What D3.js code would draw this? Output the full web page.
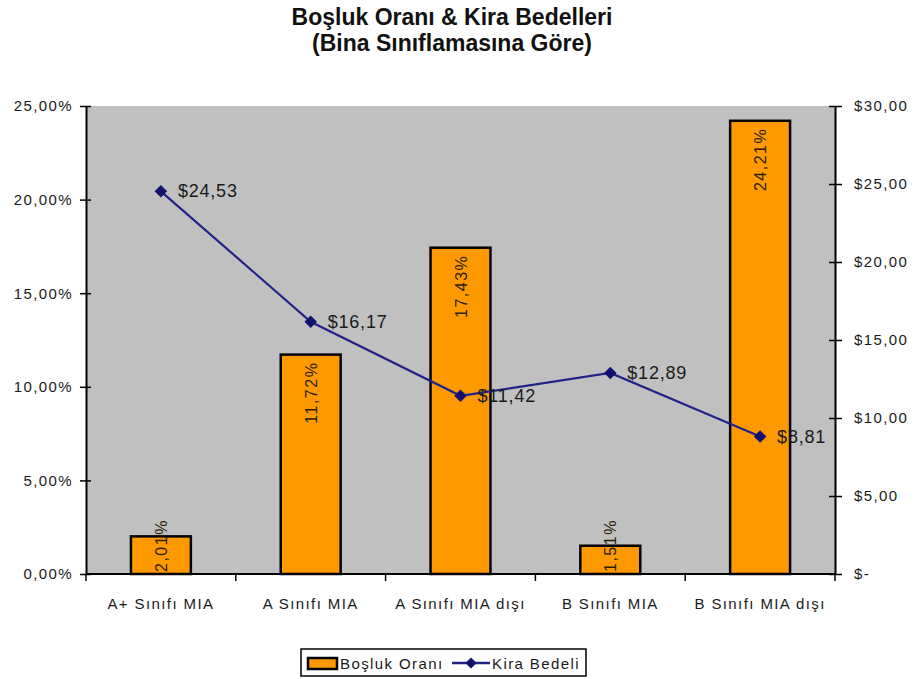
<!DOCTYPE html>
<html>
<head>
<meta charset="utf-8">
<script src="https://cdn.jsdelivr.net/npm/d3@7"></script>
<style>
  html, body { margin: 0; padding: 0; background: #ffffff; }
  svg { display: block; font-family: "Liberation Sans", Arial, sans-serif; }
</style>
</head>
<body>
<svg id="chart" width="916" height="679"></svg>
<script>
// Building classes and their figures
const categories = ["A+ Sınıfı MIA", "A Sınıfı MIA", "A Sınıfı MIA dışı", "B Sınıfı MIA", "B Sınıfı MIA dışı"];
const vacancyRate = [2.01, 11.72, 17.43, 1.51, 24.21];   // Boşluk Oranı (%)
const rentValue = [24.53, 16.17, 11.42, 12.89, 8.81];    // Kira Bedeli ($)
const leftTicks = [0, 5, 10, 15, 20, 25];
const rightTicks = [0, 5, 10, 15, 20, 25, 30];
const titleLines = ["Boşluk Oranı & Kira Bedelleri", "(Bina Sınıflamasına Göre)"];
const seriesNames = ["Boşluk Oranı", "Kira Bedeli"];

const trLocale = d3.formatLocale({ decimal: ",", thousands: ".", grouping: [3], currency: ["$", ""] });
const fmt2 = trLocale.format(".2f");
const pctLabel = v => fmt2(v) + "%";
const usdLabel = v => v === 0 ? "$-" : "$" + fmt2(v);

const svg = d3.select("#chart");
const m = { left: 86, right: 835, top: 106, bottom: 574 };

const x = d3.scaleBand().domain(categories).range([m.left, m.right]).paddingInner(0).paddingOuter(0);
const yL = d3.scaleLinear().domain([0, 25]).range([m.bottom, m.top]);
const yR = d3.scaleLinear().domain([0, 30]).range([m.bottom, m.top]);

const textColor = "#1a1a1a";
const tickFont = { size: "15px", spacing: "1.4px" };

// Title
svg.append("g").selectAll("text").data(titleLines).join("text")
  .attr("x", 452).attr("y", (d, i) => 25 + i * 26)
  .attr("text-anchor", "middle")
  .attr("font-size", "23px").attr("font-weight", "bold")
  .attr("fill", "#111")
  .text(d => d);

// Plot area
svg.append("rect")
  .attr("x", m.left).attr("y", m.top)
  .attr("width", m.right - m.left).attr("height", m.bottom - m.top)
  .attr("fill", "#c0c0c0");

// Bars
const barW = x.bandwidth() * 0.4;
svg.append("g").selectAll("rect").data(vacancyRate).join("rect")
  .attr("x", (d, i) => x(categories[i]) + (x.bandwidth() - barW) / 2)
  .attr("y", d => yL(d))
  .attr("width", barW)
  .attr("height", d => yL(0) - yL(d))
  .attr("fill", "#ff9900")
  .attr("stroke", "#000")
  .attr("stroke-width", 2.5);

// Bar value labels, rotated
const barLabels = svg.append("g").selectAll("text").data(vacancyRate).join("text")
  .attr("font-size", "16px")
  .attr("letter-spacing", "1.5px")
  .attr("fill", "#2a2200")
  .attr("text-anchor", "start")
  .text(d => pctLabel(d));
barLabels.each(function (d, i) {
  const len = this.getComputedTextLength();
  const cx = x(categories[i]) + x.bandwidth() / 2 + 6;
  const top = Math.min(yL(d) + 7, yL(0) - 2 - len);
  const startY = top + len;
  d3.select(this).attr("transform", `translate(${cx},${startY}) rotate(-90)`);
});

// Rent line
const linePts = rentValue.map((v, i) => [x(categories[i]) + x.bandwidth() / 2, yR(v)]);
svg.append("path")
  .attr("d", d3.line()(linePts))
  .attr("fill", "none")
  .attr("stroke", "#22228a")
  .attr("stroke-width", 2.2);
svg.append("g").selectAll("path").data(rentValue).join("path")
  .attr("d", d3.symbol(d3.symbolDiamond2, 100)())
  .attr("transform", (d, i) => `translate(${x(categories[i]) + x.bandwidth() / 2},${yR(d)})`)
  .attr("fill", "#12126e");
svg.append("g").selectAll("text").data(rentValue).join("text")
  .attr("x", (d, i) => x(categories[i]) + x.bandwidth() / 2 + 17)
  .attr("y", d => yR(d) + 6)
  .attr("font-size", "18px")
  .attr("letter-spacing", "0.8px")
  .attr("fill", textColor)
  .text(d => usdLabel(d));

// Left axis
const leftAxis = svg.append("g").attr("transform", `translate(${m.left},0)`)
  .call(d3.axisLeft(yL).tickValues(leftTicks).tickFormat(pctLabel).tickSizeInner(5).tickSizeOuter(0).tickPadding(10));
leftAxis.select(".domain").attr("stroke", "#000").attr("stroke-width", 2);
leftAxis.selectAll(".tick line").attr("x1", 5).attr("x2", -6).attr("stroke", "#000").attr("stroke-width", 1.5);
leftAxis.selectAll(".tick text").attr("font-size", tickFont.size).attr("letter-spacing", tickFont.spacing)
  .attr("font-family", "Liberation Sans, Arial, sans-serif").attr("fill", textColor).attr("x", -13);

// Right axis
const rightAxis = svg.append("g").attr("transform", `translate(${m.right},0)`)
  .call(d3.axisRight(yR).tickValues(rightTicks).tickFormat(usdLabel).tickSizeInner(6).tickSizeOuter(0).tickPadding(10));
rightAxis.select(".domain").attr("stroke", "#000").attr("stroke-width", 2);
rightAxis.selectAll(".tick line").attr("x1", -6).attr("x2", 7).attr("stroke", "#000").attr("stroke-width", 1.5);
rightAxis.selectAll(".tick text").attr("font-size", tickFont.size).attr("letter-spacing", tickFont.spacing)
  .attr("font-family", "Liberation Sans, Arial, sans-serif").attr("fill", textColor).attr("x", 19);

// Bottom axis: ticks on category boundaries
const bottom = svg.append("g").attr("transform", `translate(0,${m.bottom})`);
bottom.append("line").attr("x1", m.left).attr("x2", m.right).attr("stroke", "#000").attr("stroke-width", 2);
const boundaries = categories.map(c => x(c)).concat([m.right]);
bottom.selectAll("line.tk").data(boundaries).join("line").attr("class", "tk")
  .attr("x1", d => d).attr("x2", d => d).attr("y1", 0).attr("y2", 7)
  .attr("stroke", "#000").attr("stroke-width", 1.5);
bottom.selectAll("text").data(categories).join("text")
  .attr("x", d => x(d) + x.bandwidth() / 2)
  .attr("y", 35)
  .attr("text-anchor", "middle")
  .attr("font-size", tickFont.size).attr("letter-spacing", tickFont.spacing)
  .attr("fill", textColor)
  .text(d => d);

// Legend
const lg = svg.append("g");
lg.append("rect").attr("x", 301).attr("y", 649).attr("width", 285).attr("height", 27)
  .attr("fill", "#fff").attr("stroke", "#000").attr("stroke-width", 1.5);
lg.append("rect").attr("x", 308).attr("y", 658).attr("width", 29).attr("height", 11)
  .attr("fill", "#ff9900").attr("stroke", "#000").attr("stroke-width", 2.5);
lg.append("text").attr("x", 340).attr("y", 669).attr("font-size", tickFont.size)
  .attr("letter-spacing", tickFont.spacing).attr("fill", textColor).text(seriesNames[0]);
lg.append("line").attr("x1", 452).attr("x2", 490).attr("y1", 663).attr("y2", 663)
  .attr("stroke", "#22228a").attr("stroke-width", 2.5);
lg.append("path").attr("d", d3.symbol(d3.symbolDiamond2, 80)())
  .attr("transform", "translate(471,663)").attr("fill", "#12126e");
lg.append("text").attr("x", 492).attr("y", 669).attr("font-size", tickFont.size)
  .attr("letter-spacing", tickFont.spacing).attr("fill", textColor).text(seriesNames[1]);
</script>
</body>
</html>
